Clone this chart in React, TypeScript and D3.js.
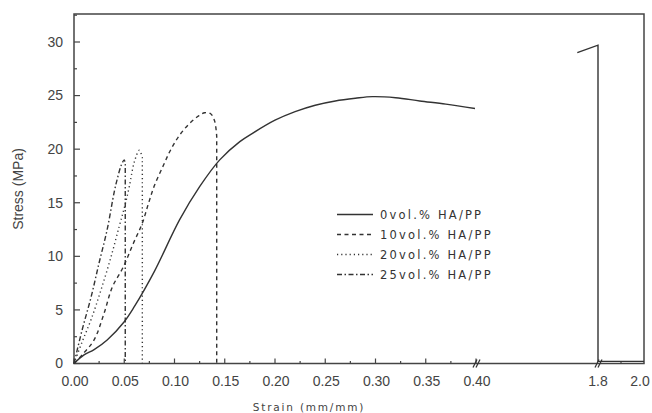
import React from "react";
import * as d3 from "d3";

// 0 vol.% HA/PP, first segment (strain 0 - 0.40)
const strain0a = [0, 0.01, 0.02, 0.033, 0.05, 0.06, 0.08, 0.105, 0.125, 0.145, 0.165, 0.178, 0.2, 0.22, 0.24, 0.26, 0.28, 0.297, 0.32, 0.344, 0.37, 0.399];
const stress0a = [0, 0.8, 1.3, 2.2, 3.9, 5.3, 8.6, 13.4, 16.5, 19.0, 20.7, 21.5, 22.7, 23.5, 24.1, 24.5, 24.75, 24.9, 24.8, 24.5, 24.2, 23.8];
// 0 vol.% HA/PP, after the axis break
const strain0b = [1.71, 1.8, 1.8, 2.0];
const stress0b = [29.0, 29.7, 0.2, 0.2];
// 10 vol.% HA/PP (last point = fracture drop)
const strain10 = [0, 0.01, 0.02, 0.03, 0.038, 0.049, 0.059, 0.068, 0.074, 0.08, 0.089, 0.096, 0.105, 0.115, 0.124, 0.13, 0.136, 0.14, 0.142, 0.142];
const stress10 = [0, 1.0, 2.2, 4.7, 7.1, 9.0, 11.2, 13.1, 14.9, 16.6, 18.5, 19.9, 21.3, 22.4, 23.1, 23.4, 23.3, 22.6, 21.2, 0];
// 20 vol.% HA/PP
const strain20 = [0, 0.008, 0.017, 0.027, 0.037, 0.045, 0.05, 0.055, 0.06, 0.065, 0.068, 0.068];
const stress20 = [0, 2.0, 4.1, 6.9, 10.0, 12.8, 14.5, 16.5, 18.8, 19.9, 19.2, 0];
// 25 vol.% HA/PP
const strain25 = [0, 0.008, 0.017, 0.025, 0.033, 0.04, 0.043, 0.047, 0.05, 0.051, 0.051];
const stress25 = [0, 3.1, 6.2, 9.4, 12.5, 16.0, 17.2, 18.5, 19.0, 18.6, 0];

const legendLabels = ["0vol.% HA/PP", "10vol.% HA/PP", "20vol.% HA/PP", "25vol.% HA/PP"];
const dashes = ["none", "4,3.5", "1.2,3", "5,2.5,1.5,2.5"];
const xTicks1 = [0, 0.05, 0.1, 0.15, 0.2, 0.25, 0.3, 0.35, 0.4];
const xTicks2 = [1.8, 2.0];
const yTicks = [0, 5, 10, 15, 20, 25, 30];

const W = 652, H = 413;
const left = 74, top = 14, right = 644, bottom = 363.5;
const ink = "#333";

export default function App() {
  const x1 = d3.scaleLinear().domain([0, 0.4]).range([left, 476]);
  const x2 = d3.scaleLinear().domain([1.8, 2.0]).range([598, right]);
  const y = d3.scaleLinear().domain([0, 30]).range([bottom, 42]);

  // smooth curve through all points except the last `tail`, which are joined straight
  const mk = (xs: number[], ys: number[], sx: d3.ScaleLinear<number, number>, tail = 0) => {
    const n = Math.max(1, xs.length - tail);
    let d = n > 1
      ? d3.line<number>()
          .x((i) => sx(xs[i]))
          .y((i) => y(ys[i]))
          .curve(d3.curveCatmullRom.alpha(0.5))(d3.range(n)) || ""
      : `M${sx(xs[0])},${y(ys[0])}`;
    for (let i = n; i < xs.length; i++) d += `L${sx(xs[i])},${y(ys[i])}`;
    return d;
  };

  const series = [
    mk(strain0a, stress0a, x1),
    mk(strain10, stress10, x1, 1),
    mk(strain20, stress20, x1, 1),
    mk(strain25, stress25, x1, 1),
  ];

  const yMinor = d3.range(0, 32.6, 2.5);
  const xMinor = d3.range(0, 0.401, 0.025);

  const tickFont = { fontFamily: "Liberation Sans, Arial, sans-serif", fontSize: 14, fill: "#444" };
  const breakMark = (x: number) => (
    <g>
      <line x1={x - 3} y1={bottom + 4} x2={x + 1} y2={bottom - 4} stroke={ink} strokeWidth={1.2} />
      <line x1={x} y1={bottom + 4} x2={x + 4} y2={bottom - 4} stroke={ink} strokeWidth={1.2} />
    </g>
  );

  return (
    <svg width={W} height={H} style={{ position: "absolute", left: 0, top: 0, background: "#fff" }}>
      {/* frame */}
      <rect x={left} y={top} width={right - left} height={bottom - top} fill="none" stroke="#444" strokeWidth={1.5} />

      {/* y ticks */}
      {yMinor.map((v) => (
        <line key={"ym" + v} x1={left} x2={left + (v % 5 === 0 ? 6 : 3)} y1={y(v)} y2={y(v)} stroke="#444" strokeWidth={1.2} />
      ))}
      {yTicks.map((v) => (
        <text key={"yt" + v} x={63} y={y(v)} dy="0.35em" textAnchor="end" {...tickFont}>{v}</text>
      ))}

      {/* x ticks */}
      {xMinor.map((v, i) => (
        <line key={"xm" + i} x1={x1(v)} x2={x1(v)} y1={bottom} y2={bottom - (i % 2 === 0 ? 5 : 2.5)} stroke="#444" strokeWidth={1.2} />
      ))}
      <line x1={x2(1.9)} x2={x2(1.9)} y1={bottom} y2={bottom - 2.5} stroke="#444" strokeWidth={1.2} />
      {xTicks1.map((v) => (
        <text key={"xt" + v} x={x1(v) + 1} y={386} textAnchor="middle" {...tickFont}>{v.toFixed(2)}</text>
      ))}
      {xTicks2.map((v) => (
        <text key={"xt2" + v} x={x2(v) - (v === 2 ? 4 : 0)} y={386} textAnchor="middle" {...tickFont}>{v.toFixed(1)}</text>
      ))}
      {breakMark(x1(0.4))}
      {breakMark(x2(1.8))}

      {/* curves */}
      {series.map((d, i) => (
        <path key={"s" + i} d={d} fill="none" stroke={ink} strokeWidth={1.4} strokeDasharray={dashes[i]} />
      ))}
      <path d={mk(strain0b, stress0b, x2, 3)} fill="none" stroke={ink} strokeWidth={1.4} />

      {/* legend */}
      {legendLabels.map((t, i) => (
        <g key={"lg" + i} transform={`translate(0, ${214.5 + i * 20})`}>
          <line x1={337} x2={373} y1={0} y2={0} stroke={ink} strokeWidth={1.4} strokeDasharray={dashes[i]} />
          <text x={380} y={0} dy="0.35em" fontFamily="DejaVu Sans, sans-serif" fontSize={11.5} letterSpacing={2.2} fill="#333">{t}</text>
        </g>
      ))}

      {/* axis titles */}
      <text x={309} y={411} textAnchor="middle" fontFamily="DejaVu Sans, sans-serif" fontSize={10.5} letterSpacing={1.8} fill="#444">Strain (mm/mm)</text>
      <text transform={`translate(23, ${189}) rotate(-90)`} textAnchor="middle" fontFamily="Liberation Sans, Arial, sans-serif" fontSize={14} fill="#444">Stress (MPa)</text>
    </svg>
  );
}
